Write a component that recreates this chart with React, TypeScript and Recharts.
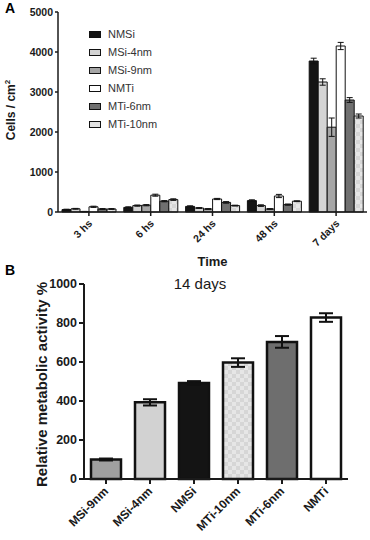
import React from "react";
import { Bar, BarChart, Cell, ErrorBar, Label, XAxis, YAxis } from "recharts";

// Panel A: cell density over time
const timePoints = ["3 hs", "6 hs", "24 hs", "48 hs", "7 days"];
const nmsi = [60, 115, 140, 285, 3775];
const msi4 = [80, 160, 100, 160, 3250];
const msi9 = [10, 170, 75, 75, 2120];
const nmti = [130, 420, 325, 400, 4150];
const mti6 = [75, 270, 240, 185, 2800];
const mti10 = [75, 310, 160, 270, 2400];
const nmsiErr = [10, 15, 15, 20, 70];
const msi4Err = [10, 15, 10, 20, 80];
const msi9Err = [5, 15, 10, 10, 230];
const nmtiErr = [15, 25, 15, 40, 90];
const mti6Err = [10, 15, 20, 15, 60];
const mti10Err = [10, 20, 10, 10, 50];
const cellTicks = [0, 1000, 2000, 3000, 4000, 5000];

// Panel B: metabolic activity at 14 days
const samples = ["MSi-9nm", "MSi-4nm", "NMSi", "MTi-10nm", "MTi-6nm", "NMTi"];
const activity = [100, 393, 492, 597, 703, 828];
const activityErr = [5, 16, 10, 22, 30, 22];
const activityTicks = [0, 200, 400, 600, 800, 1000];

const FONT = "'Liberation Sans', Arial, sans-serif";
const INK = "#1a1a1a";

const series = [
  { key: "NMSi", values: nmsi, err: nmsiErr, fill: "#141414", swatch: "#141414" },
  { key: "MSi-4nm", values: msi4, err: msi4Err, fill: "#d4d4d4", swatch: "#d4d4d4" },
  { key: "MSi-9nm", values: msi9, err: msi9Err, fill: "#a6a6a6", swatch: "#a6a6a6" },
  { key: "NMTi", values: nmti, err: nmtiErr, fill: "#ffffff", swatch: "#ffffff" },
  { key: "MTi-6nm", values: mti6, err: mti6Err, fill: "#707070", swatch: "#707070" },
  { key: "MTi-10nm", values: mti10, err: mti10Err, fill: "url(#checkA)", swatch: "#e2e2e2" },
];

const fillByName: Record<string, string> = {
  "MSi-9nm": "#a0a0a0",
  "MSi-4nm": "#d2d2d2",
  NMSi: "#141414",
  "MTi-10nm": "url(#checkB)",
  "MTi-6nm": "#6e6e6e",
  NMTi: "#ffffff",
};

const dataA = timePoints.map((t, i) => {
  const row: Record<string, string | number> = { time: t };
  series.forEach((s) => {
    row[s.key] = s.values[i];
    row[s.key + "_err"] = s.err[i];
  });
  return row;
});

const dataB = samples.map((name, i) => ({ name, value: activity[i], err: activityErr[i] }));

const RotTick = ({ x, y, payload, size, dx, dy }: any) => (
  <text
    transform={`translate(${x + dx},${y + dy}) rotate(-45)`}
    textAnchor="end"
    fontFamily={FONT}
    fontWeight="bold"
    fontSize={size}
    fill={INK}
  >
    {payload.value}
  </text>
);

// legend drawn over the plot, top-left like the original figure
const LegendA = () => (
  <div style={{ position: "absolute", left: 89, top: 25, fontFamily: FONT, fontSize: 11, color: "#333" }}>
    {series.map((s) => (
      <div key={s.key} style={{ display: "flex", alignItems: "center", height: 18 }}>
        <span
          style={{
            display: "inline-block",
            width: 10,
            height: 5,
            border: "1px solid #111",
            background: s.swatch,
            marginRight: 7,
          }}
        />
        {s.key}
      </div>
    ))}
  </div>
);

const Checker = ({ id }: { id: string }) => (
  <pattern id={id} width={8} height={8} patternUnits="userSpaceOnUse">
    <rect width={8} height={8} fill="#e6e6e6" />
    <rect width={4} height={4} fill="#d6d6d6" />
    <rect x={4} y={4} width={4} height={4} fill="#d6d6d6" />
  </pattern>
);

export default function App() {
  return (
    <div style={{ position: "absolute", top: 0, left: 0, width: 370, height: 540, background: "#fff" }}>
      <div style={{ position: "absolute", left: 0, top: 0 }}>
        <BarChart
          width={370}
          height={270}
          data={dataA}
          margin={{ top: 12, right: 3, left: 0, bottom: 0 }}
          barCategoryGap={4}
          barGap={0}
        >
          <defs>
            <Checker id="checkA" />
          </defs>
          <XAxis
            dataKey="time"
            height={58}
            stroke={INK}
            strokeWidth={1.5}
            tickSize={4}
            tickMargin={2}
            interval={0}
            tick={<RotTick size={10.5} dx={4} dy={6} />}
          >
            <Label
              value="Time"
              position="insideBottom"
              offset={4}
              style={{ fontFamily: FONT, fontWeight: "bold", fontSize: 13, fill: INK }}
            />
          </XAxis>
          <YAxis
            width={58}
            domain={[0, 5000]}
            ticks={cellTicks}
            stroke={INK}
            strokeWidth={1.5}
            tickSize={3}
            tickMargin={2}
            tick={{ fontFamily: FONT, fontWeight: "bold", fontSize: 10.5, fill: INK }}
          >
            <Label
              content={({ viewBox }: any) => (
                <text
                  transform={`translate(15,${viewBox.y + viewBox.height / 2 - 2}) rotate(-90)`}
                  textAnchor="middle"
                  fontFamily={FONT}
                  fontWeight="bold"
                  fontSize={12}
                  fill={INK}
                >
                  Cells / cm
                  <tspan dy={-5} fontSize={8}>2</tspan>
                </text>
              )}
            />
          </YAxis>
          {series.map((s) => (
            <Bar
              key={s.key}
              dataKey={s.key}
              name={s.key}
              fill={s.fill}
              stroke="#111"
              strokeWidth={1}
              isAnimationActive={false}
            >
              <ErrorBar dataKey={s.key + "_err"} width={3} stroke="#111" strokeWidth={1} />
            </Bar>
          ))}
        </BarChart>
      </div>
      <LegendA />

      <div style={{ position: "absolute", left: 0, top: 270 }}>
        <BarChart
          width={370}
          height={270}
          data={dataB}
          margin={{ top: 14, right: 22, left: 0, bottom: 0 }}
          barCategoryGap={7}
        >
          <defs>
            <Checker id="checkB" />
          </defs>
          <XAxis
            dataKey="name"
            height={61}
            stroke={INK}
            strokeWidth={2}
            tickSize={5}
            tickMargin={2}
            interval={0}
            tick={<RotTick size={12} dx={3} dy={6} />}
          />
          <YAxis
            width={84}
            domain={[0, 1000]}
            ticks={activityTicks}
            stroke={INK}
            strokeWidth={2}
            tickSize={5}
            tickMargin={2}
            tick={{ fontFamily: FONT, fontWeight: "bold", fontSize: 12.5, fill: INK }}
          >
            <Label
              content={({ viewBox }: any) => (
                <text
                  transform={`translate(47,${viewBox.y + viewBox.height / 2 + 3}) rotate(-90)`}
                  textAnchor="middle"
                  fontFamily={FONT}
                  fontWeight="bold"
                  fontSize={15}
                  fill={INK}
                >
                  Relative metabolic activity %
                </text>
              )}
            />
          </YAxis>
          <Bar dataKey="value" stroke="#111" strokeWidth={2.5} isAnimationActive={false}>
            {dataB.map((d) => (
              <Cell key={d.name} fill={fillByName[d.name]} />
            ))}
            <ErrorBar dataKey="err" width={7} stroke="#111" strokeWidth={2} />
          </Bar>
        </BarChart>
      </div>

      <div style={{ position: "absolute", left: 5, top: 0, fontFamily: FONT, fontWeight: "bold", fontSize: 14 }}>A</div>
      <div style={{ position: "absolute", left: 5, top: 262, fontFamily: FONT, fontWeight: "bold", fontSize: 14 }}>B</div>
      <div
        style={{
          position: "absolute",
          left: 150,
          width: 100,
          top: 275,
          textAlign: "center",
          fontFamily: FONT,
          fontSize: 15,
          color: INK,
        }}
      >
        14 days
      </div>
    </div>
  );
}
